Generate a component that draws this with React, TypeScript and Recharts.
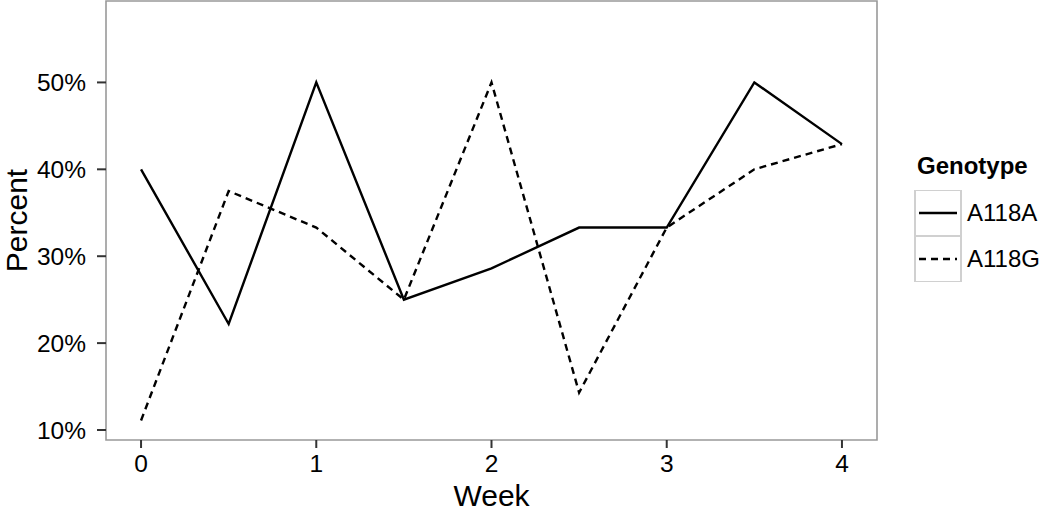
import { LineChart, Line, XAxis, YAxis, ReferenceArea, Legend } from "recharts";

const weeks = [0, 0.5, 1, 1.5, 2, 2.5, 3, 3.5, 4];
const a118a = [40, 22.2, 50, 25, 28.6, 33.3, 33.3, 50, 42.9];
const a118g = [11.1, 37.5, 33.3, 25, 50, 14.3, 33.3, 40, 42.9];
const xTicks = [0, 1, 2, 3, 4];
const yTicks = [10, 20, 30, 40, 50];
const series = [
  { key: "A118A", dash: undefined as string | undefined },
  { key: "A118G", dash: "7 5" },
];

const data = weeks.map((w, i) => ({ week: w, A118A: a118a[i], A118G: a118g[i] }));

const X_DOMAIN: [number, number] = [-0.2, 4.2];
const Y_DOMAIN: [number, number] = [8.85, 59.37];
const FONT = "'Liberation Sans', Arial, Helvetica, sans-serif";

const GenotypeLegend = () => (
  <div style={{ fontFamily: FONT, color: "#000" }}>
    <div style={{ fontWeight: "bold", fontSize: 24, lineHeight: "28px", marginLeft: 3, marginBottom: 10 }}>
      Genotype
    </div>
    {series.map((s) => (
      <div key={s.key} style={{ display: "flex", alignItems: "center", height: 46 }}>
        <svg width={48} height={46} style={{ display: "block" }}>
          <rect x={1} y={0} width={46} height={46} fill="#fff" stroke="#d0d0d0" strokeWidth={2} />
          <line x1={5} x2={43} y1={23} y2={23} stroke="#000" strokeWidth={2.4} strokeDasharray={s.dash} />
        </svg>
        <span style={{ fontSize: 24, marginLeft: 5 }}>{s.key}</span>
      </div>
    ))}
  </div>
);

const PercentLabel = (props: any) => {
  const { viewBox } = props;
  const cy = viewBox.y + viewBox.height / 2;
  return (
    <text
      x={27}
      y={cy}
      transform={`rotate(-90, 27, ${cy})`}
      textAnchor="middle"
      fontSize={30}
      fontFamily={FONT}
      fill="#000"
    >
      Percent
    </text>
  );
};

function App() {
  return (
    <div style={{ position: "absolute", left: 0, top: 0 }}>
      <LineChart width={1050} height={512} data={data} margin={{ top: 1, right: 173, left: 0, bottom: 0 }}>
        <XAxis
          dataKey="week"
          type="number"
          domain={X_DOMAIN}
          ticks={xTicks}
          allowDataOverflow
          height={72}
          axisLine={false}
          tickLine={{ stroke: "#333", strokeWidth: 2 }}
          tickSize={8}
          tickMargin={7}
          tick={{ fill: "#000", fontSize: 24.5, fontFamily: FONT }}
          label={{ value: "Week", position: "insideBottom", offset: 6, fontSize: 30, fontFamily: FONT, fill: "#000" }}
        />
        <YAxis
          type="number"
          domain={Y_DOMAIN}
          ticks={yTicks}
          allowDataOverflow
          width={106}
          axisLine={false}
          tickLine={{ stroke: "#333", strokeWidth: 2 }}
          tickSize={9}
          tickMargin={11}
          tickFormatter={(v: number) => `${v}%`}
          tick={{ fill: "#000", fontSize: 24.5, fontFamily: FONT }}
          label={<PercentLabel />}
        />
        <ReferenceArea
          x1={X_DOMAIN[0]}
          x2={X_DOMAIN[1]}
          y1={Y_DOMAIN[0]}
          y2={Y_DOMAIN[1]}
          fill="none"
          stroke="#999"
          strokeWidth={1.6}
          ifOverflow="visible"
        />
        {series.map((s) => (
          <Line
            key={s.key}
            dataKey={s.key}
            stroke="#000"
            strokeWidth={2.4}
            strokeDasharray={s.dash}
            dot={false}
            activeDot={false}
            isAnimationActive={false}
          />
        ))}
        <Legend
          layout="vertical"
          align="center"
          verticalAlign="middle"
          content={<GenotypeLegend />}
          wrapperStyle={{ position: "absolute", left: 914, top: 152, width: 136 }}
        />
      </LineChart>
    </div>
  );
}

export default App;
